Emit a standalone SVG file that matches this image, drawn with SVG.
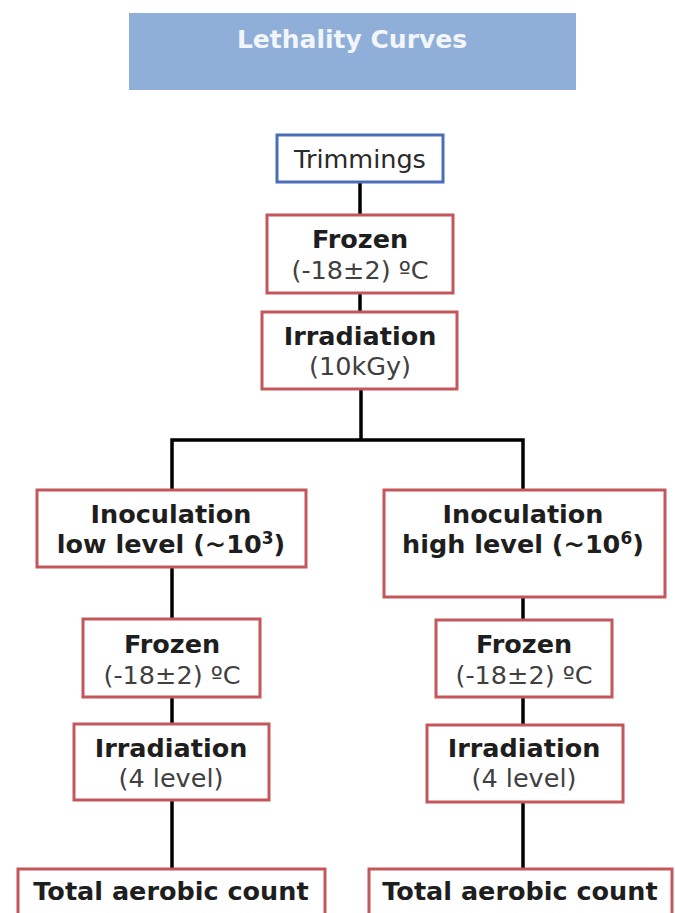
<svg xmlns="http://www.w3.org/2000/svg" width="675" height="913" viewBox="0 0 675 913">
<style>
.bg{fill:#ffffff}
.box{fill:#ffffff;stroke:#C4575B;stroke-width:3}
.blue{fill:#ffffff;stroke:#4A6FB8;stroke-width:3}
.b{font-family:"DejaVu Sans",Verdana,sans-serif;font-weight:bold;font-size:25.5px;fill:#1E1E1E;text-anchor:middle}
.r{font-family:"DejaVu Sans",Verdana,sans-serif;font-size:25.5px;fill:#404040;text-anchor:middle}
.sup{font-size:17px}
.title{font-family:"DejaVu Sans",Verdana,sans-serif;font-weight:bold;font-size:25px;fill:#F2F6FB;text-anchor:middle}
.c{stroke:#000000;stroke-width:3.5;fill:none}
</style>
<rect class="bg" x="0" y="0" width="675" height="913"/>
<g id="title">
<rect x="129" y="13" width="447" height="77" fill="#8FAFD8"/>
<text class="title" x="352" y="48">Lethality Curves</text>
</g>
<g id="connectors">
<line class="c" x1="360" y1="182" x2="360" y2="215"/>
<line class="c" x1="360" y1="293" x2="360" y2="312"/>
<line class="c" x1="361" y1="389" x2="361" y2="440"/>
<polyline class="c" points="172,490 172,440 523,440 523,490"/>
<line class="c" x1="172" y1="567" x2="172" y2="619"/>
<line class="c" x1="172" y1="697" x2="172" y2="724"/>
<line class="c" x1="172" y1="800" x2="172" y2="869"/>
<line class="c" x1="523" y1="597" x2="523" y2="620"/>
<line class="c" x1="523" y1="697" x2="523" y2="725"/>
<line class="c" x1="523" y1="802" x2="523" y2="869"/>
</g>
<g id="trimmings">
<rect class="blue" x="277" y="135" width="166" height="47"/>
<text class="r" x="360" y="168" style="fill:#2a2a2a">Trimmings</text>
</g>
<g id="frozen-top">
<rect class="box" x="267" y="215" width="186" height="78"/>
<text class="b" x="360" y="248">Frozen</text>
<text class="r" x="360" y="279">(-18±2) ºC</text>
</g>
<g id="irradiation-top">
<rect class="box" x="262" y="312" width="195" height="77"/>
<text class="b" x="360" y="345">Irradiation</text>
<text class="r" x="360" y="375">(10kGy)</text>
</g>
<g id="inoc-low">
<rect class="box" x="37" y="490" width="269" height="77"/>
<text class="b" x="171" y="523">Inoculation</text>
<text class="b" x="171" y="553">low level (~10<tspan class="sup" dy="-9">3</tspan><tspan dy="9">)</tspan></text>
</g>
<g id="inoc-high">
<rect class="box" x="384" y="490" width="281" height="107"/>
<text class="b" x="523" y="523">Inoculation</text>
<text class="b" x="523" y="553">high level (~10<tspan class="sup" dy="-9">6</tspan><tspan dy="9">)</tspan></text>
</g>
<g id="frozen-left">
<rect class="box" x="83" y="619" width="177" height="78"/>
<text class="b" x="172" y="653">Frozen</text>
<text class="r" x="172" y="684">(-18±2) ºC</text>
</g>
<g id="frozen-right">
<rect class="box" x="436" y="620" width="176" height="77"/>
<text class="b" x="524" y="653">Frozen</text>
<text class="r" x="524" y="684">(-18±2) ºC</text>
</g>
<g id="irr-left">
<rect class="box" x="74" y="724" width="195" height="76"/>
<text class="b" x="171" y="757">Irradiation</text>
<text class="r" x="171" y="787">(4 level)</text>
</g>
<g id="irr-right">
<rect class="box" x="427" y="725" width="196" height="77"/>
<text class="b" x="524" y="757">Irradiation</text>
<text class="r" x="524" y="787">(4 level)</text>
</g>
<g id="tac-left">
<rect class="box" x="18" y="869" width="307" height="50"/>
<text class="b" x="171" y="900">Total aerobic count</text>
</g>
<g id="tac-right">
<rect class="box" x="369" y="869" width="303" height="50"/>
<text class="b" x="520" y="900">Total aerobic count</text>
</g>
</svg>
